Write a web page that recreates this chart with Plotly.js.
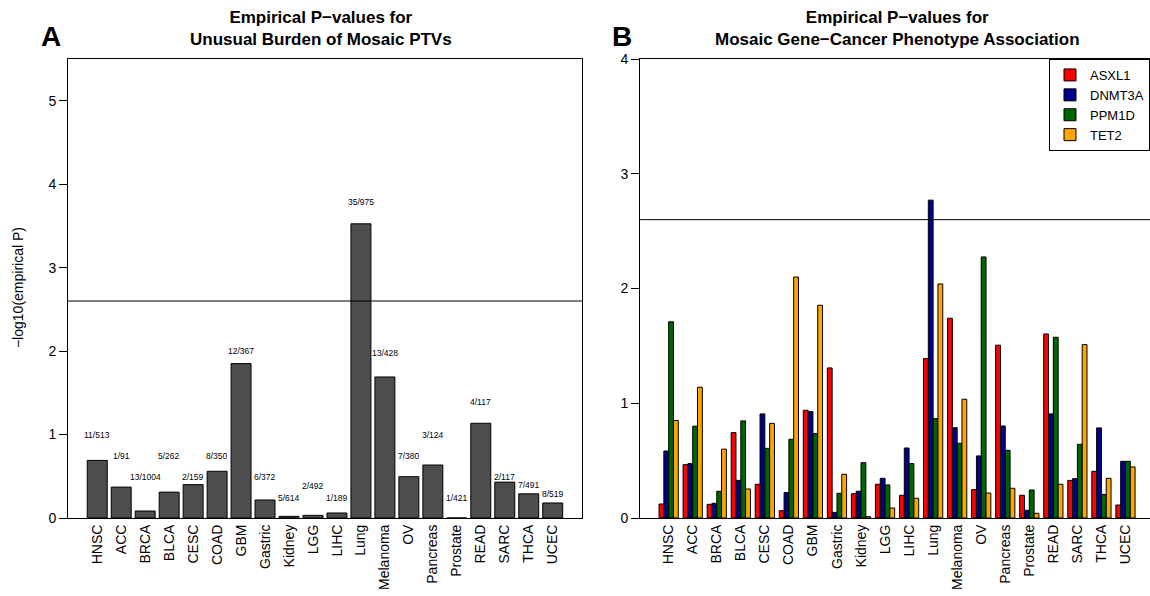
<!DOCTYPE html>
<html>
<head>
<meta charset="utf-8">
<script src="https://cdn.plot.ly/plotly-3.0.1.min.js"></script>
<style>html,body{margin:0;padding:0;background:#fff;}#chart{width:1150px;height:596px;}</style>
</head>
<body>
<div id="chart"></div>
<script>
// ---- Data ----
const cancers = ["HNSC","ACC","BRCA","BLCA","CESC","COAD","GBM","Gastric","Kidney","LGG","LIHC","Lung","Melanoma","OV","Pancreas","Prostate","READ","SARC","THCA","UCEC"];
// Panel A: -log10(empirical P) for burden of mosaic PTVs
const burdenP = [0.69,0.37,0.084,0.31,0.40,0.56,1.85,0.216,0.02,0.032,0.06,3.525,1.69,0.495,0.635,0.0,1.135,0.43,0.29,0.18];
const burdenLabels = ["11/513","1/91","13/1004","5/262","2/159","8/350","12/367","6/372","5/614","2/492","1/189","35/975","13/428","7/380","3/124","1/421","4/117","2/117","7/491","8/519"];
const burdenLabelY = [1.0,0.74,0.49,0.74,0.49,0.74,2.0,0.49,0.24,0.38,0.24,3.79,1.98,0.74,1.0,0.24,1.39,0.49,0.40,0.29];
// Panel B: -log10(empirical P) per gene
const genes = ["ASXL1","DNMT3A","PPM1D","TET2"];
const asxl1  = [0.122,0.465,0.119,0.744,0.294,0.064,0.939,1.308,0.212,0.294,0.198,1.389,1.741,0.247,1.506,0.198,1.604,0.328,0.407,0.113];
const dnmt3a = [0.584,0.474,0.128,0.328,0.907,0.221,0.927,0.049,0.233,0.346,0.610,2.77,0.787,0.541,0.802,0.067,0.907,0.343,0.785,0.494];
const ppm1d  = [1.71,0.80,0.233,0.846,0.607,0.686,0.735,0.215,0.482,0.288,0.474,0.866,0.651,2.275,0.590,0.244,1.575,0.642,0.206,0.494];
const tet2   = [0.85,1.14,0.60,0.253,0.825,2.10,1.854,0.381,0.012,0.087,0.172,2.04,1.035,0.218,0.259,0.041,0.294,1.511,0.346,0.445];
const geneValues = [asxl1, dnmt3a, ppm1d, tet2];
const geneColors = ["#FF0000","#00008B","#006400","#FFA500"];
const threshold = 2.6;

// ---- Styling ----
const FONT = "Liberation Sans, Arial, Helvetica, sans-serif";

const traces = [{
  type: "bar", x: cancers, y: burdenP, xaxis: "x", yaxis: "y",
  width: 0.833, showlegend: false, hoverinfo: "x+y",
  marker: {color: "#4D4D4D", line: {color: "#000", width: 1}}
}];
genes.forEach((g, i) => {
  traces.push({
    type: "bar", name: g, x: cancers, y: geneValues[i], xaxis: "x2", yaxis: "y2",
    marker: {color: geneColors[i], line: {color: "#000", width: 1}}
  });
});

const xCommon = {
  type: "category", showline: true, mirror: true, linecolor: "#000", linewidth: 1,
  ticks: "", tickangle: -90, showgrid: false, zeroline: false, fixedrange: true,
  tickfont: {family: FONT, size: 14, color: "#000"}
};
const yCommon = {
  showline: true, mirror: true, linecolor: "#000", linewidth: 1,
  ticks: "outside", ticklen: 8, tickcolor: "#000", showgrid: false, zeroline: false,
  tickfont: {family: FONT, size: 14, color: "#000"}
};

const annotations = [];
cancers.forEach((c, i) => {
  annotations.push({xref: "x", yref: "y", x: c, y: burdenLabelY[i], text: burdenLabels[i],
    showarrow: false, xanchor: "center", font: {family: FONT, size: 8.5, color: "#000"}});
});
annotations.push(
  {xref: "paper", yref: "paper", x: 0.2338, y: 1.0664, xanchor: "center", yanchor: "middle", showarrow: false,
   text: "<b>Empirical P−values for<br>Unusual Burden of Mosaic PTVs</b>", font: {family: FONT, size: 17, color: "#000"}},
  {xref: "paper", yref: "paper", x: 0.7662, y: 1.0664, xanchor: "center", yanchor: "middle", showarrow: false,
   text: "<b>Empirical P−values for<br>Mosaic Gene−Cancer Phenotype Association</b>", font: {family: FONT, size: 17, color: "#000"}},
  {xref: "paper", yref: "paper", x: -0.0157, y: 1.048, xanchor: "center", yanchor: "middle", showarrow: false,
   text: "<b>A</b>", font: {family: FONT, size: 28, color: "#000"}},
  {xref: "paper", yref: "paper", x: 0.512, y: 1.048, xanchor: "center", yanchor: "middle", showarrow: false,
   text: "<b>B</b>", font: {family: FONT, size: 28, color: "#000"}},
  {xref: "paper", yref: "paper", x: -0.0462, y: 0.501, xanchor: "center", yanchor: "middle", showarrow: false,
   textangle: -90, text: "−log10(empirical P)", font: {family: FONT, size: 14, color: "#000"}}
);

const layout = {
  width: 1150, height: 596,
  margin: {l: 68, r: 0, t: 59, b: 78},
  paper_bgcolor: "#fff", plot_bgcolor: "#fff",
  barmode: "group", bargap: 0.2, bargroupgap: 0,
  font: {family: FONT, size: 14, color: "#000"},
  xaxis: Object.assign({}, xCommon, {domain: [0, 0.4750], range: [-1.22, 20.22], anchor: "y"}),
  yaxis: Object.assign({}, yCommon, {range: [0, 5.5], tickvals: [0,1,2,3,4,5], anchor: "x"}),
  xaxis2: Object.assign({}, xCommon, {domain: [0.5287, 1], range: [-1.19, 20.02], anchor: "y2"}),
  yaxis2: Object.assign({}, yCommon, {range: [0, 4], tickvals: [0,1,2,3,4], anchor: "x2"}),
  shapes: [
    {type: "line", xref: "x domain", yref: "y", x0: 0, x1: 1, y0: threshold, y1: threshold, line: {color: "#000", width: 1}},
    {type: "line", xref: "x2 domain", yref: "y2", x0: 0, x1: 1, y0: threshold, y1: threshold, line: {color: "#000", width: 1}}
  ],
  legend: {x: 1, xanchor: "right", y: 1, yanchor: "top", bordercolor: "#000", borderwidth: 1,
    bgcolor: "#fff", font: {family: FONT, size: 13, color: "#000"}},
  annotations: annotations
};

Plotly.newPlot("chart", traces, layout, {displayModeBar: false, staticPlot: true});
</script>
</body>
</html>
